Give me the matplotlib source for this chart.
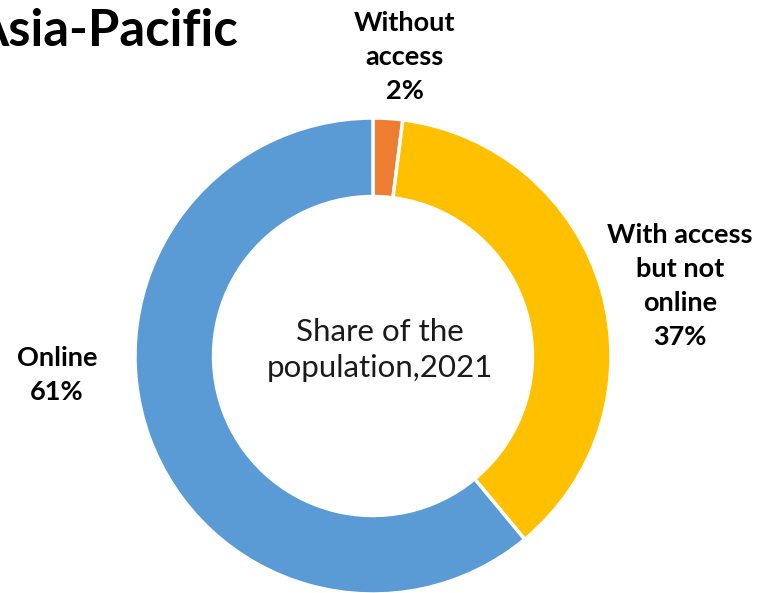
import matplotlib
matplotlib.use("Agg")
import matplotlib.pyplot as plt

categories = ["Without access", "With access but not online", "Online"]
values = [2, 37, 61]
labels = ["Without\naccess\n2%", "With access\nbut not\nonline\n37%", "Online\n61%"]
colors = ["#ED7D31", "#FFC000", "#5B9BD5"]

W, H = 763, 593
fig = plt.figure(figsize=(W / 100, H / 100), dpi=100)
ax = fig.add_axes([0, 0, 1, 1])

cx, cy, R = 373, H - 356, 238
ax.pie(values, colors=colors, startangle=90, counterclock=False,
       center=(cx, cy), radius=R, frame=True,
       wedgeprops=dict(width=R * 0.33, edgecolor="white", linewidth=2.5))
ax.set_xlim(0, W)
ax.set_ylim(0, H)
ax.set_aspect("equal")
ax.axis("off")

font = ["Lato", "DejaVu Sans"]
ax.text(238, H - 46, "Asia-Pacific", ha="right", va="baseline", fontsize=36.5,
        fontweight="bold", family=font)

lab_pos = [(405, H - 57), (680, H - 286), (57, H - 375)]
for (x, y), t in zip(lab_pos, labels):
    ax.text(x, y, t, ha="center", va="center", fontsize=19.5, fontweight="bold",
            family=font, linespacing=1.5)

ax.text(380, H - 350, "Share of the\npopulation,2021", ha="center", va="center",
        fontsize=22.5, fontweight="normal", family=font, linespacing=1.35,
        color="#1a1a1a")

fig.savefig("out.png", dpi=100)
